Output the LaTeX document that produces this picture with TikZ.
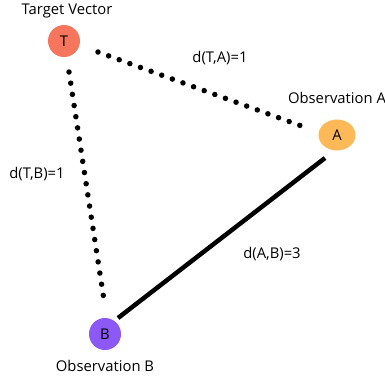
\documentclass[tikz,border=0pt]{standalone}
\usepackage{fontspec}
\setmainfont{Open Sans}
\usetikzlibrary{shapes.geometric}
\definecolor{tcol}{RGB}{245,118,92}
\definecolor{acol}{RGB}{253,185,88}
\definecolor{bcol}{RGB}{140,88,246}
\tikzset{
  vert/.style={circle,inner sep=0pt,minimum size=32pt,font=\fontsize{14.8}{17}\selectfont},
  lab/.style={font=\fontsize{14.8}{17}\selectfont,inner sep=0pt},
  dotline/.style={line width=5.5pt,line cap=round,dash pattern=on 0pt off 11.3pt},
  solidline/.style={line width=4.5pt}
}
\begin{document}
\begin{tikzpicture}[x=1pt,y=-1pt]
\useasboundingbox (0,0) rectangle (385,376);
\node[vert,fill=tcol] (T) at (64,41) {T};
\node[vert,ellipse,fill=acol,minimum width=37pt,minimum height=31pt] (A) at (337,135) {A};
\node[vert,fill=bcol] (B) at (105,334) {B};
\node[lab] (tl) at (67,11) {Target Vector};
\node[lab] (al) at (337,98) {Observation A};
\node[lab] (bl) at (105,366) {Observation B};
\coordinate (ta1) at (98,52);
\coordinate (ta2) at (307,128);
\coordinate (tb1) at (69,72);
\coordinate (tb2) at (104,300);
\coordinate (ab1) at (325,158);
\coordinate (ab2) at (118,318);
\draw[dotline] (ta1) -- (ta2);
\draw[dotline] (tb1) -- (tb2);
\draw[solidline] (ab1) -- (ab2);
\node[lab] (dta) at (220,58) {d(T,A)=1};
\node[lab] (dtb) at (37,174) {d(T,B)=1};
\node[lab] (dab) at (272,254) {d(A,B)=3};
\end{tikzpicture}
\end{document}
